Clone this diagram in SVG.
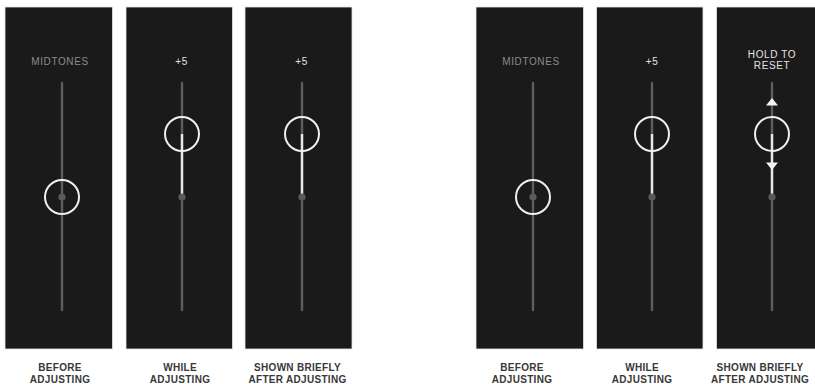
<svg xmlns="http://www.w3.org/2000/svg" width="815" height="384" viewBox="0 0 815 384">
<style>
.panel{fill:#1a1a1a;stroke:#e6e6e6;stroke-width:0.8}
.track{stroke:#5e5e5e;stroke-width:2.4;stroke-linecap:round}
.active{stroke:#e8e8e8;stroke-width:2.4}
.knob{fill:none;stroke:#efefef;stroke-width:2}
.dot{fill:#5a5a5a}
.tri{fill:#f2f2f2}
.head{font-family:"Liberation Sans",Arial,sans-serif;font-size:10px;text-anchor:middle;letter-spacing:0.6px}
.grey{fill:#8c8c8c}
.white{fill:#e4e4e4}
.cap{font-family:"Liberation Sans",Arial,sans-serif;font-size:10px;font-weight:bold;fill:#383838;text-anchor:middle;letter-spacing:0.3px}
</style>
<rect width="815" height="384" fill="#ffffff"/>

<g id="panel-before-1">
<rect class="panel" x="5" y="7" width="107.5" height="342"/>
<text class="head grey" x="60" y="64.5">MIDTONES</text>
<line class="track" x1="62" y1="83" x2="62" y2="310"/>
<circle class="dot" cx="62" cy="197" r="3.6"/>
<circle class="knob" cx="62" cy="197" r="17"/>
</g>

<g id="panel-while-1">
<rect class="panel" x="126" y="7" width="106.5" height="342"/>
<text class="head white" x="181.5" y="64.5">+5</text>
<line class="track" x1="182" y1="83" x2="182" y2="310"/>
<line class="active" x1="182" y1="134" x2="182" y2="197"/>
<circle class="dot" cx="182" cy="197" r="3.6"/>
<circle class="knob" cx="182" cy="134" r="17"/>
</g>

<g id="panel-after-1">
<rect class="panel" x="245" y="7" width="107" height="342"/>
<text class="head white" x="301.5" y="64.5">+5</text>
<line class="track" x1="302" y1="83" x2="302" y2="310"/>
<line class="active" x1="302" y1="134" x2="302" y2="197"/>
<circle class="dot" cx="302" cy="197" r="3.6"/>
<circle class="knob" cx="302" cy="134" r="17"/>
</g>

<g id="panel-before-2">
<rect class="panel" x="476" y="7" width="107.5" height="342"/>
<text class="head grey" x="531" y="64.5">MIDTONES</text>
<line class="track" x1="533" y1="83" x2="533" y2="310"/>
<circle class="dot" cx="533" cy="197" r="3.6"/>
<circle class="knob" cx="533" cy="197" r="17"/>
</g>

<g id="panel-while-2">
<rect class="panel" x="596.5" y="7" width="106.5" height="342"/>
<text class="head white" x="652" y="64.5">+5</text>
<line class="track" x1="652" y1="83" x2="652" y2="310"/>
<line class="active" x1="652" y1="134" x2="652" y2="197"/>
<circle class="dot" cx="652" cy="197" r="3.6"/>
<circle class="knob" cx="652" cy="134" r="17"/>
</g>

<g id="panel-after-2">
<rect class="panel" x="716.5" y="7" width="100" height="342"/>
<text class="head white" x="772" y="57.5">HOLD TO</text>
<text class="head white" x="772" y="68.5">RESET</text>
<line class="track" x1="772" y1="83" x2="772" y2="310"/>
<line class="active" x1="772" y1="134" x2="772" y2="197"/>
<circle class="dot" cx="772" cy="197" r="3.6"/>
<circle class="knob" cx="772" cy="134" r="17"/>
<polygon class="tri" points="772,98 766,105.5 778,105.5"/>
<polygon class="tri" points="766,162.5 778,162.5 772,170"/>
</g>

<g id="captions">
<text class="cap" x="60" y="371">BEFORE</text>
<text class="cap" x="60" y="382.5">ADJUSTING</text>
<text class="cap" x="180" y="371">WHILE</text>
<text class="cap" x="180" y="382.5">ADJUSTING</text>
<text class="cap" x="297.5" y="371">SHOWN BRIEFLY</text>
<text class="cap" x="297.5" y="382.5">AFTER ADJUSTING</text>
<text class="cap" x="522" y="371">BEFORE</text>
<text class="cap" x="522" y="382.5">ADJUSTING</text>
<text class="cap" x="642" y="371">WHILE</text>
<text class="cap" x="642" y="382.5">ADJUSTING</text>
<text class="cap" x="760" y="371">SHOWN BRIEFLY</text>
<text class="cap" x="760" y="382.5">AFTER ADJUSTING</text>
</g>
</svg>
